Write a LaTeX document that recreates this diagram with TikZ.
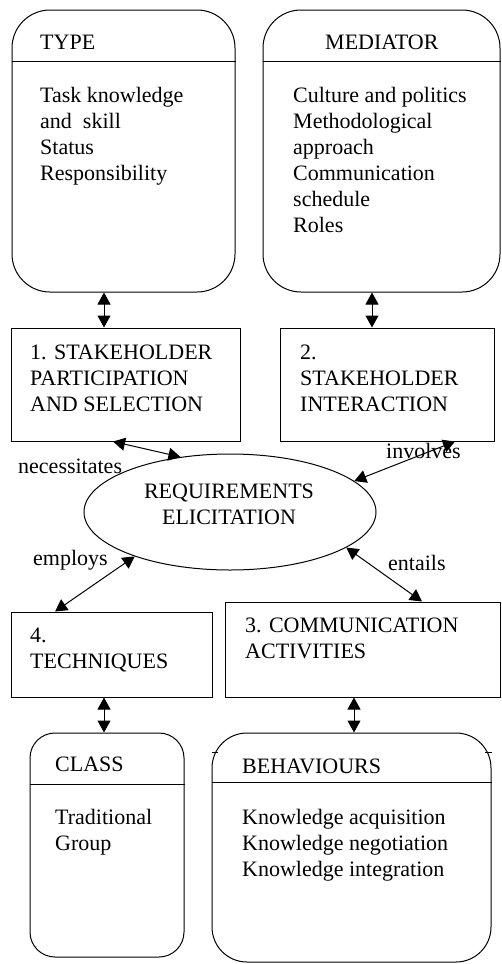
\documentclass[tikz,border=0pt]{standalone}
\usepackage{fontspec}
\setmainfont{Liberation Serif}
\usetikzlibrary{arrows.meta,shapes.geometric}

\tikzset{
  roundbox/.style={draw,line width=1pt,rounded corners=#1,inner sep=0pt},
  plainbox/.style={draw,line width=1pt,inner sep=0pt},
  txt/.style={inner sep=0pt,align=left,anchor=north west},
  lbl/.style={inner sep=0pt,anchor=base west},
  link/.style={line width=1pt,{Triangle[length=12pt,width=13pt]}-{Triangle[length=12pt,width=13pt]}},
}

\begin{document}
\begin{tikzpicture}[x=1pt,y=-1pt,font=\fontsize{22}{26}\selectfont]
\useasboundingbox (0,0) rectangle (502,964);

\node[roundbox=38pt,minimum width=223,minimum height=282] (type) at (123.5,151) {};
\draw[line width=1pt] ([yshift=-52pt]type.north west) -- ([yshift=-52pt]type.north east);
\node[lbl] (typehead) at (40,49.5) {TYPE};
\node[txt] (typebody) at (40,87) {Task knowledge\\and\ \ skill\\Status\\Responsibility};

\node[roundbox=38pt,minimum width=237,minimum height=282] (med) at (381.5,151) {};
\draw[line width=1pt] ([yshift=-52pt]med.north west) -- ([yshift=-52pt]med.north east);
\node[lbl] (medhead) at (325,49.5) {MEDIATOR};
\node[txt] (medbody) at (293,87) {Culture and politics\\Methodological\\approach\\Communication\\schedule\\Roles};

\node[plainbox,minimum width=229,minimum height=113] (stake) at (125.5,384.5) {};
\node[txt] (staketxt) at (30,344.5) {1. STAKEHOLDER\\PARTICIPATION\\AND SELECTION};
\node[plainbox,minimum width=214,minimum height=113] (inter) at (387,384.5) {};
\node[txt] (intertxt) at (300,344.5) {2.\\STAKEHOLDER\\INTERACTION};

\node[draw,ellipse,line width=1pt,inner sep=0pt,minimum width=292,minimum height=116] (req) at (230,512) {};
\node[inner sep=0pt,align=center,anchor=north] (reqtxt) at (229,484) {REQUIREMENTS\\ELICITATION};

\node[plainbox,minimum width=201,minimum height=85] (tech) at (111.5,654.5) {};
\node[txt] (techtxt) at (30,628) {4.\\TECHNIQUES};
\node[plainbox,minimum width=275,minimum height=95] (comm) at (362.5,649.5) {};
\node[txt] (commtxt) at (245,618) {3. COMMUNICATION\\ACTIVITIES};

\node[roundbox=25pt,minimum width=154,minimum height=224] (class) at (107,845) {};
\draw[line width=1pt] ([yshift=-52pt]class.north west) -- ([yshift=-52pt]class.north east);
\node[lbl] (classhead) at (55,771) {CLASS};
\node[txt] (classbody) at (55,809) {Traditional\\Group};

\node[roundbox=35pt,minimum width=279,minimum height=229] (behav) at (351.5,847.5) {};
\draw[line width=1pt] ([yshift=-50pt]behav.north west) -- ([yshift=-50pt]behav.north east);
\draw[line width=1pt] ([yshift=-20pt]behav.north west) -- ++(6,0);
\draw[line width=1pt] ([yshift=-20pt]behav.north east) -- ++(-7,0);
\node[lbl] (behavhead) at (242,773) {BEHAVIOURS};
\node[txt] (behavbody) at (242,809) {Knowledge acquisition\\Knowledge negotiation\\Knowledge integration};

\draw[link] ([xshift=-19.5pt]type.south) -- ([xshift=-21.5pt]stake.north);
\draw[link] ([xshift=-9.5pt]med.south) -- ([xshift=-15pt]inter.north);
\draw[link] ([xshift=-12.5pt]stake.south) -- (req.132);
\draw[link] ([xshift=68pt]inter.south) -- (req.14);
\draw[link] (req.205) -- ([xshift=-56.5pt]tech.north);
\draw[link] (req.343) -- ([xshift=59.5pt]comm.north);
\draw[link] ([xshift=-7.5pt]tech.south) -- ([xshift=-3pt]class.north);
\draw[link] ([xshift=-8.5pt]comm.south) -- ([xshift=2.5pt]behav.north);

\node[lbl] (necess) at (18,473) {necessitates};
\node[lbl] (involv) at (386,458) {involves};
\node[lbl] (employ) at (33,565) {employs};
\node[lbl] (entail) at (388,570) {entails};
\end{tikzpicture}
\end{document}
